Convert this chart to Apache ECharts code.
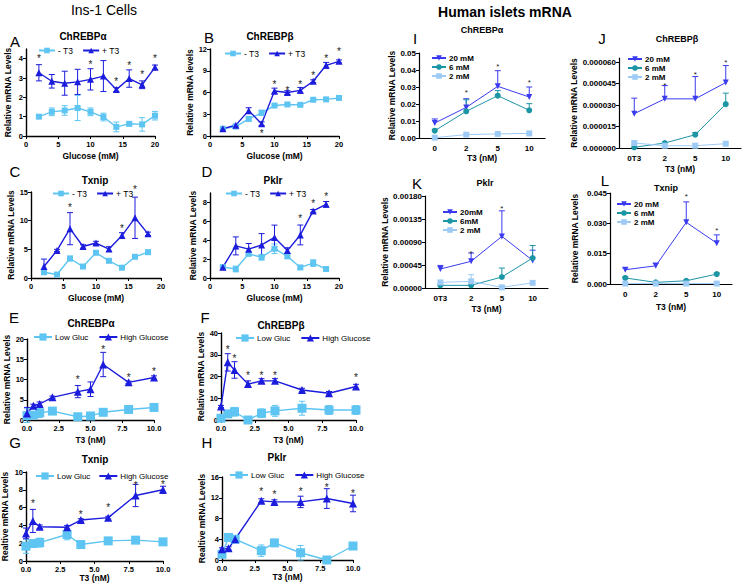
<!DOCTYPE html>
<html><head><meta charset="utf-8">
<script src="https://cdn.jsdelivr.net/npm/echarts@6/dist/echarts.min.js"></script>
<style>html,body{margin:0;padding:0;background:#fff}#c{width:745px;height:583px}</style>
</head><body><div id="c"></div>
<script>
// ---------------- DATA ----------------
// Panel A  ChREBPα vs glucose
const glucoseA = [2,4,6,8,10,12,14,16,18,20];
const aMinusT3 = [1.0,1.25,1.32,1.45,1.25,0.98,0.47,0.63,0.6,1.05];
const aMinusT3Err = [0.08,0.2,0.25,0.65,0.2,0.2,0.25,0.1,0.35,0.22];
const aPlusT3 = [3.27,2.83,2.73,2.8,2.93,3.1,2.4,2.97,2.65,3.55];
const aPlusT3Err = [0.42,0.35,0.62,0.65,0.55,0.8,0.1,0.45,0.2,0.12];
const aStarX = [2,10,14,16,18,20];
const aStarY = [4.16,3.81,2.94,3.76,3.29,4.16];
const aYTicks = [0,1,2,3,4];
const glucoseTicks = [0,5,10,15,20];
// Panel B  ChREBPβ vs glucose
const bMinusT3 = [1.0,1.3,2.35,3.2,4.2,4.35,4.3,5.0,5.05,5.25];
const bMinusT3Err = [0.1,0.15,0.3,0.35,0.15,0.15,0.15,0.15,0.15,0.15];
const bPlusT3 = [1.0,1.5,3.5,1.7,6.2,6.0,6.3,7.55,9.75,10.3];
const bPlusT3Err = [0.1,0.12,0.4,0.25,0.4,0.25,0.4,0.2,0.4,0.2];
const bStarX = [8,10,12,14,16,18,20];
const bStarY = [0.7,7.5,6.6,7.5,8.7,11.1,12.0];
const bYTicks = [0,3,6,9,12];
// Panel C  Txnip vs glucose
const glucoseC = [2,4,6,8,10,12,14,16,18];
const cMinusT3 = [1.0,0.6,3.4,2.0,4.4,3.0,1.8,3.7,4.5];
const cMinusT3Err = [0.3,0.2,0.4,0.3,0.3,0.3,0.3,0.3,0.35];
const cPlusT3 = [2.0,4.8,8.6,5.5,6.1,5.05,7.4,10.5,7.7];
const cPlusT3Err = [1.3,0.2,2.8,0.3,0.3,0.4,0.5,3.6,0.3];
const cStarX = [6,14,16];
const cStarY = [12.8,9.0,15.8];
const cYTicks = [0,5,10,15];
// Panel D  Pklr vs glucose
const dMinusT3 = [1.15,0.95,2.56,2.2,3.1,2.3,1.12,1.58,0.95];
const dMinusT3Err = [0.15,0.3,0.2,0.3,0.5,0.25,0.2,0.35,0.15];
const dPlusT3 = [1.15,3.4,3.05,3.5,4.3,2.9,4.56,7.1,7.8];
const dPlusT3Err = [0.1,0.95,0.6,1.2,1.3,0.3,1.05,0.15,0.3];
const dStarX = [14,16,18];
const dStarY = [6.6,8.2,8.9];
const dYTicks = [0,2,4,6,8];
// Panel E  ChREBPα vs T3
const t3E = [0,0.5,1,2,4,5,6,8,10];
const eLowGluc = [1.07,1.2,1.8,2.2,0.8,1.0,1.9,2.6,3.1];
const eLowGlucErr = [1.7,0.3,1.2,0.3,0.3,0.4,0.3,0.3,0.4];
const eHighGluc = [1.6,3.5,3.95,5.6,7.0,7.6,13.7,9.3,10.5];
const eHighGlucErr = [1.5,0.4,0.5,0.3,1.5,1.8,3.0,0.3,0.4];
const eStarX = [4,6,8,10];
const eStarY = [10.7,18.1,11.1,12.5];
const eYTicks = [0,5,10,15,20];
const t3Ticks = [0,2.5,5,7.5,10];
// Panel F  ChREBPβ vs T3
const t3F = [0,0.5,1,2,3,4,6,8,10];
const fLowGluc = [0.8,2.8,3.8,0,3.1,4.2,5.4,4.6,4.6];
const fLowGlucErr = [0.5,0.8,2,0.3,2,2.5,3.2,2,2];
const fHighGluc = [6.2,26.5,23,16.5,18,18,13.8,12.3,15.4];
const fHighGlucErr = [0.5,4,3.8,1.5,1,1,0.8,0.8,1];
const fStarX = [0.5,1,2,3,4,10];
const fStarY = [33.5,29.5,21.5,21.5,21.5,20.5];
const fYTicks = [0,10,20,30,40];
// Panel G  Txnip vs T3
const t3G = [0,0.5,1,3,4,6,8,10];
const gLowGluc = [1.66,1.96,2.07,2.98,1.85,2.26,2.34,2.15];
const gLowGlucErr = [0.8,0.2,0.5,0.6,0.15,0.2,0.2,0.2];
const gHighGluc = [3.1,4.5,3.85,3.8,4.6,4.87,7.36,8.0];
const gHighGlucErr = [0.6,1.3,0.2,0.2,0.15,0.15,1.25,0.4];
const gStarX = [0.5,4,6,8,10];
const gStarY = [6.7,5.5,6.3,8.75,8.9];
const gYTicks = [0,2,4,6,8,10];
// Panel H  Pklr vs T3
const t3H = [0,0.5,1,3,4,6,8,10];
const hLowGluc = [1.1,4.35,4.0,1.8,3.3,1.4,0,2.7];
const hLowGlucErr = [0.3,0.3,0.3,1.1,0.3,1.4,0.3,0.3];
const hHighGluc = [2.05,2.25,4.0,11.4,11.2,11.2,11.85,10.9];
const hHighGlucErr = [0.3,0.3,0.3,0.4,0.4,1.1,1.9,1.6];
const hStarX = [3,4,6,8,10];
const hStarY = [13.6,13.1,13.6,14.5,13.3];
const hYTicks = [0,4,8,12,16];
// Panel I  human ChREBPα
const humanT3 = ['0','2','5','10'];
const i20 = [0.0088,0.018,0.0304,0.0241];
const i20Err = [0.0024,0.0051,0.0092,0.0059];
const i6 = [0.0043,0.0157,0.0249,0.0163];
const i6Err = [0.0008,0.0068,0.003,0.0039];
const i2 = [0.0002,0.002,0.0024,0.0027];
const i2Err = [0,0,0,0];
const iStarX = ['2','5','10'];
const iStarY = [0.0278,0.0435,0.0339];
const iYTicks = [0,0.01,0.02,0.03,0.04,0.05];
// Panel J  human ChREBPβ
const humanT3b = ['0T3','2','5','10'];
const j20 = [0.0000240,0.0000344,0.0000344,0.0000458];
const j20Err = [0.0000109,0.0000093,0.0000156,0.0000119];
const j6 = [0.0000005,0.0000035,0.0000093,0.0000307];
const j6Err = [0,0,0.0000016,0.0000077];
const j2 = [0.0000035,0.0000016,0.0000016,0.000003];
const j2Err = [0,0,0,0];
const jStarX = ['2','5','10'];
const jStarY = [0.0000453,0.0000528,0.0000616];
const jYTicks = [0,0.000015,0.00003,0.000045,0.00006];
// Panel K  human Pklr
const k20 = [0.000372,0.000522,0.00101,0.00054];
const k20Err = [0.00007,0.000163,0.0005,0.0002];
const k6 = [0.000052,0.000052,0.000215,0.000587];
const k6Err = [0,0,0.000175,0.000243];
const k2 = [0.00011,0.00013,0.000013,0.0001];
const k2Err = [0,0.00013,0,0];
const kStarX = ['2','5'];
const kStarY = [0.00072,0.0016];
const kYTicks = [0,0.00045,0.0009,0.00135,0.0018];
// Panel L  human Txnip
const l20 = [0.00705,0.009,0.0305,0.0202];
const l20Err = [0.0009,0.0013,0.0101,0.0041];
const l6 = [0.003,0.0008,0.0016,0.0049];
const l6Err = [0.0005,0.0003,0.0003,0.0006];
const l2 = [0.0002,0.0002,0.0002,0.0002];
const l2Err = [0,0,0,0];
const lStarX = ['5','10'];
const lStarY = [0.0444,0.0275];
const lYTicks = [0,0.015,0.03,0.045];

// ---------------- STYLE / BUILD ----------------
const FONT = 'Liberation Sans, Arial, sans-serif';
const MINUS = '#5ec5f2', PLUS = '#1c1cdc';
const C20 = '#3a3af0', C6 = '#1c95a5', C2 = '#9ecbf5';

const option = { animation:false, backgroundColor:'#fff', grid:[], xAxis:[], yAxis:[], series:[], legend:[], graphic:[] };

function zip(xs, ys){ return xs.map((x,i)=>[x, ys[i]]); }
function zip3(xs, ys, es){ return xs.map((x,i)=>[x, ys[i], es[i]]); }

function errSeries(idx, xs, ys, es, color, mode, cap, lw){
  return {
    type:'custom', xAxisIndex:idx, yAxisIndex:idx, silent:true, z:1,
    encode:{x:0, y:1},
    data: zip3(xs, ys, es),
    renderItem:function(params, api){
      const x = api.value(0), y = api.value(1), e = api.value(2);
      if (!e) return null;
      const top = api.coord([x, y + e]);
      const bot = api.coord([x, mode === 'up' ? y : y - e]);
      const st = {stroke:color, lineWidth:lw};
      const ch = [
        {type:'line', shape:{x1:top[0], y1:top[1], x2:bot[0], y2:bot[1]}, style:st},
        {type:'line', shape:{x1:top[0]-cap, y1:top[1], x2:top[0]+cap, y2:top[1]}, style:st}
      ];
      if (mode !== 'up') ch.push({type:'line', shape:{x1:bot[0]-cap, y1:bot[1], x2:bot[0]+cap, y2:bot[1]}, style:st});
      return {type:'group', children:ch};
    }
  };
}

function starSeries(idx, xs, ys, size){
  return {
    type:'custom', xAxisIndex:idx, yAxisIndex:idx, silent:true, z:5, clip:false,
    encode:{x:0, y:1},
    data: zip(xs, ys),
    renderItem:function(params, api){
      const p = api.coord([api.value(0), api.value(1)]);
      return {type:'text', x:p[0], y:p[1] + size*0.25,
        style:{text:'*', font:size+'px '+FONT, fill:'#222', textAlign:'center', textVerticalAlign:'middle'}};
    }
  };
}

function addPanel(p){
  const i = option.grid.length;
  option.grid.push({left:p.g[0], top:p.g[1], width:p.g[2], height:p.g[3], containLabel:false, outerBoundsMode:'none'});
  const axisLine = {lineStyle:{color:'#000', width:p.human?1.2:1.4}};
  const lblFont = {fontFamily:FONT, fontWeight:'bold', fontSize:p.human?8:7.5, color:'#000'};
  const nameStyle = {fontFamily:FONT, fontWeight:'bold', fontSize:8.5, color:'#000'};
  if (p.cats) {
    option.xAxis.push({type:'category', gridIndex:i, data:p.cats, boundaryGap:true,
      axisLine:axisLine, axisTick:{show:false}, splitLine:{show:false},
      axisLabel:Object.assign({margin:6, interval:0}, lblFont),
      name:p.xName, nameLocation:'middle', nameGap:p.xGap, nameTextStyle:nameStyle});
  } else {
    option.xAxis.push({type:'value', gridIndex:i, min:0, max:p.xMax,
      axisLine:Object.assign({onZero:false}, axisLine), axisTick:{show:true, length:3, lineStyle:{color:'#000'}, customValues:p.xTicks},
      splitLine:{show:false},
      axisLabel:Object.assign({margin:4, customValues:p.xTicks, formatter:v=>v.toFixed(p.xDec)}, lblFont),
      name:p.xName, nameLocation:'middle', nameGap:p.xGap, nameTextStyle:nameStyle});
  }
  option.yAxis.push({type:'value', gridIndex:i, min:0, max:p.yMax,
    axisLine:Object.assign({show:true}, axisLine), axisTick:{show:true, length:3, lineStyle:{color:'#000'}, customValues:p.yTicks},
    splitLine:{show:false},
    axisLabel:Object.assign({margin:3, customValues:p.yTicks, formatter:v=>v.toFixed(p.yDec)}, lblFont),
    name:p.yName, nameLocation:'middle', nameGap:p.yGap, nameTextStyle:nameStyle});
  p.series.forEach(s=>{
    option.series.push(errSeries(i, s.x, s.y, s.e, s.color, p.human?'up':'both', 3, 1));
  });
  p.series.forEach(s=>{
    option.series.push({type:'line', name:s.name, xAxisIndex:i, yAxisIndex:i, z:3,
      data:zip(s.x, s.y), symbol:s.symbol, symbolSize:s.size, symbolRotate:s.rotate||0, showSymbol:true,
      lineStyle:{color:s.color, width:p.human?1:1.4}, itemStyle:{color:s.color}, emphasis:{disabled:true}});
  });
  option.series.push(starSeries(i, p.starX, p.starY, p.human?8:10));
  option.legend.push(Object.assign({
    data:p.series.map(s=>s.name), selectedMode:false, padding:0,
    textStyle:{fontFamily:FONT, fontSize:p.legFont, fontWeight:p.human?'bold':'normal', color:'#000', padding:[0,0,0,-2]}
  }, p.legend));
  option.graphic.push({type:'text', x:p.title[1], y:p.title[2], style:{text:p.title[0], font:'bold '+(p.human?9:10)+'px '+FONT, fill:'#000', textAlign:'center', textVerticalAlign:'middle'}});
  option.graphic.push({type:'text', x:p.letter[1], y:p.letter[2], style:{text:p.letter[0], font:'15px '+FONT, fill:'#000', textAlign:'center', textVerticalAlign:'middle'}});
}

const insLegH = {orient:'horizontal', itemWidth:16, itemHeight:7, itemGap:9};
const sq = (n,x,y,e,sz)=>({name:n,x:x,y:y,e:e,color:MINUS,symbol:'rect',size:sz});
const tr = (n,x,y,e,sz)=>({name:n,x:x,y:y,e:e,color:PLUS,symbol:'triangle',size:sz});

addPanel({g:[26,49,129,87], xMax:20, xTicks:glucoseTicks, xDec:0, yMax:4.5, yTicks:aYTicks, yDec:0,
  yName:'Relative mRNA Levels', yGap:14, xName:'Glucose (mM)', xGap:15, legFont:8.5,
  series:[sq('- T3',glucoseA,aMinusT3,aMinusT3Err,6), tr('+ T3',glucoseA,aPlusT3,aPlusT3Err,7)],
  starX:aStarX, starY:aStarY, legend:Object.assign({left:38, top:46}, insLegH),
  title:['ChREBPα',83,36], letter:['A',15,41]});
addPanel({g:[210,49,129,87], xMax:20, xTicks:glucoseTicks, xDec:0, yMax:12, yTicks:bYTicks, yDec:0,
  yName:'Relative mRNA levels', yGap:15, xName:'Glucose (mM)', xGap:15, legFont:8.5,
  series:[sq('- T3',glucoseA,bMinusT3,bMinusT3Err,6), tr('+ T3',glucoseA,bPlusT3,bPlusT3Err,7)],
  starX:bStarX, starY:bStarY, legend:Object.assign({left:224, top:49}, insLegH),
  title:['ChREBPβ',270,36], letter:['B',209,37]});
addPanel({g:[31,192,130,86], xMax:20, xTicks:glucoseTicks, xDec:0, yMax:15, yTicks:cYTicks, yDec:0,
  yName:'Relative mRNA Levels', yGap:16, xName:'Glucose (mM)', xGap:15, legFont:8.5,
  series:[sq('- T3',glucoseC,cMinusT3,cMinusT3Err,6), tr('+ T3',glucoseC,cPlusT3,cPlusT3Err,7)],
  starX:cStarX, starY:cStarY, legend:Object.assign({left:52, top:189}, insLegH),
  title:['Txnip',95,180], letter:['C',15,171]});
addPanel({g:[210,193,129,85], xMax:20, xTicks:glucoseTicks, xDec:0, yMax:9, yTicks:dYTicks, yDec:0,
  yName:'Relative mRNA Levels', yGap:13, xName:'Glucose (mM)', xGap:15, legFont:8.5,
  series:[sq('- T3',glucoseC,dMinusT3,dMinusT3Err,6), tr('+ T3',glucoseC,dPlusT3,dPlusT3Err,7)],
  starX:dStarX, starY:dStarY, legend:Object.assign({left:225, top:189}, insLegH),
  title:['Pklr',273,180], letter:['D',207,171]});

const insLegE = {orient:'horizontal', itemWidth:18, itemHeight:9, itemGap:10};
addPanel({g:[27,339,127,81], xMax:10, xTicks:t3Ticks, xDec:1, yMax:20, yTicks:eYTicks, yDec:0,
  yName:'Relative mRNA Levels', yGap:15, xName:'T3 (nM)', xGap:15, legFont:8,
  series:[sq('Low Gluc',t3E,eLowGluc,eLowGlucErr,9), tr('High Glucose',t3E,eHighGluc,eHighGlucErr,8)],
  starX:eStarX, starY:eStarY, legend:Object.assign({left:33, top:333}, insLegE),
  title:['ChREBPα',91,323], letter:['E',14,317]});
addPanel({g:[221,333,135,87], xMax:10, xTicks:t3Ticks, xDec:1, yMax:40, yTicks:fYTicks, yDec:0,
  yName:'Relative mRNA Levels', yGap:14, xName:'T3 (nM)', xGap:15, legFont:8,
  series:[sq('Low Gluc',t3F,fLowGluc,fLowGlucErr,9), tr('High Glucose',t3F,fHighGluc,fHighGlucErr,8)],
  starX:fStarX, starY:fStarY, legend:Object.assign({left:235, top:334}, insLegE),
  title:['ChREBPβ',281,325], letter:['F',205,317]});
addPanel({g:[26,472,137,89], xMax:10, xTicks:t3Ticks, xDec:1, yMax:10, yTicks:gYTicks, yDec:0,
  yName:'Realtive mRNA Levels', yGap:17, xName:'T3 (nM)', xGap:12, legFont:8,
  series:[sq('Low Gluc',t3G,gLowGluc,gLowGlucErr,9), tr('High Glucose',t3G,gHighGluc,gHighGlucErr,8)],
  starX:gStarX, starY:gStarY, legend:Object.assign({left:35, top:472, itemGap:8}, insLegE, {itemGap:8}),
  title:['Txnip',95,459], letter:['G',15,442]});
addPanel({g:[222,477,131,83], xMax:10, xTicks:t3Ticks, xDec:1, yMax:16, yTicks:hYTicks, yDec:0,
  yName:'Realtive mRNA Levels', yGap:14, xName:'T3 (nM)', xGap:12, legFont:8,
  series:[sq('Low Gluc',t3H,hLowGluc,hLowGlucErr,9), tr('High Glucose',t3H,hHighGluc,hHighGlucErr,8)],
  starX:hStarX, starY:hStarY, legend:Object.assign({left:229, top:471}, insLegE),
  title:['Pklr',277,457], letter:['H',207,442]});

const humLeg = {orient:'vertical', itemWidth:14, itemHeight:7, itemGap:1};
const h20 = (n,x,y,e)=>({name:n,x:x,y:y,e:e,color:C20,symbol:'triangle',size:6,rotate:180});
const h6 = (n,x,y,e)=>({name:n,x:x,y:y,e:e,color:C6,symbol:'circle',size:6});
const h2 = (n,x,y,e)=>({name:n,x:x,y:y,e:e,color:C2,symbol:'rect',size:6});

addPanel({human:true, cats:humanT3, g:[419,53,126,85], yMax:0.05, yTicks:iYTicks, yDec:2,
  yName:'Relative mRNA Levels', yGap:22, xName:'T3 (nM)', xGap:15, legFont:8,
  series:[h20('20 mM',humanT3,i20,i20Err), h6('6 mM',humanT3,i6,i6Err), h2('2 mM',humanT3,i2,i2Err)],
  starX:iStarX, starY:iStarY, legend:Object.assign({left:431, top:54}, humLeg),
  title:['ChREBPα',482,30], letter:['I',415,38]});
addPanel({human:true, cats:humanT3b, g:[619,58,122,90], yMax:0.000063, yTicks:jYTicks, yDec:6,
  yName:'Relative mRNA Levels', yGap:36, xName:'T3 (nM)', xGap:16, legFont:8,
  series:[h20('20 mM',humanT3b,j20,j20Err), h6('6 mM',humanT3b,j6,j6Err), h2('2 mM',humanT3b,j2,j2Err)],
  starX:jStarX, starY:jStarY, legend:Object.assign({left:627, top:55}, humLeg),
  title:['ChREBPβ',677,39], letter:['J',602,38]});
addPanel({human:true, cats:humanT3b, g:[425,196,123,92], yMax:0.0018, yTicks:kYTicks, yDec:5,
  yName:'Relative mRNA Levels', yGap:33, xName:'T3 (nM)', xGap:16, legFont:8,
  series:[h20('20mM',humanT3b,k20,k20Err), h6('6mM',humanT3b,k6,k6Err), h2('2 mM',humanT3b,k2,k2Err)],
  starX:kStarX, starY:kStarY, legend:Object.assign({left:442, top:208}, humLeg),
  title:['Pklr',485,183], letter:['K',417,183]});
addPanel({human:true, cats:humanT3, g:[610,193,122,91], yMax:0.045, yTicks:lYTicks, yDec:3,
  yName:'Relative mRNA Levels', yGap:31, xName:'T3 (nM)', xGap:18, legFont:8,
  series:[h20('20 mM',humanT3,l20,l20Err), h6('6 mM',humanT3,l6,l6Err), h2('2 mM',humanT3,l2,l2Err)],
  starX:lStarX, starY:lStarY, legend:Object.assign({left:616, top:200}, humLeg),
  title:['Txnip',666,188], letter:['L',605,180]});

option.graphic.push({type:'text', x:104, y:10, style:{text:'Ins-1 Cells', font:'14px '+FONT, fill:'#000', textAlign:'center', textVerticalAlign:'middle'}});
option.graphic.push({type:'text', x:505, y:12, style:{text:'Human islets mRNA', font:'bold 14px '+FONT, fill:'#000', textAlign:'center', textVerticalAlign:'middle'}});

const chart = echarts.init(document.getElementById('c'), null, {renderer:'svg', width:745, height:583});
chart.setOption(option);
</script></body></html>
